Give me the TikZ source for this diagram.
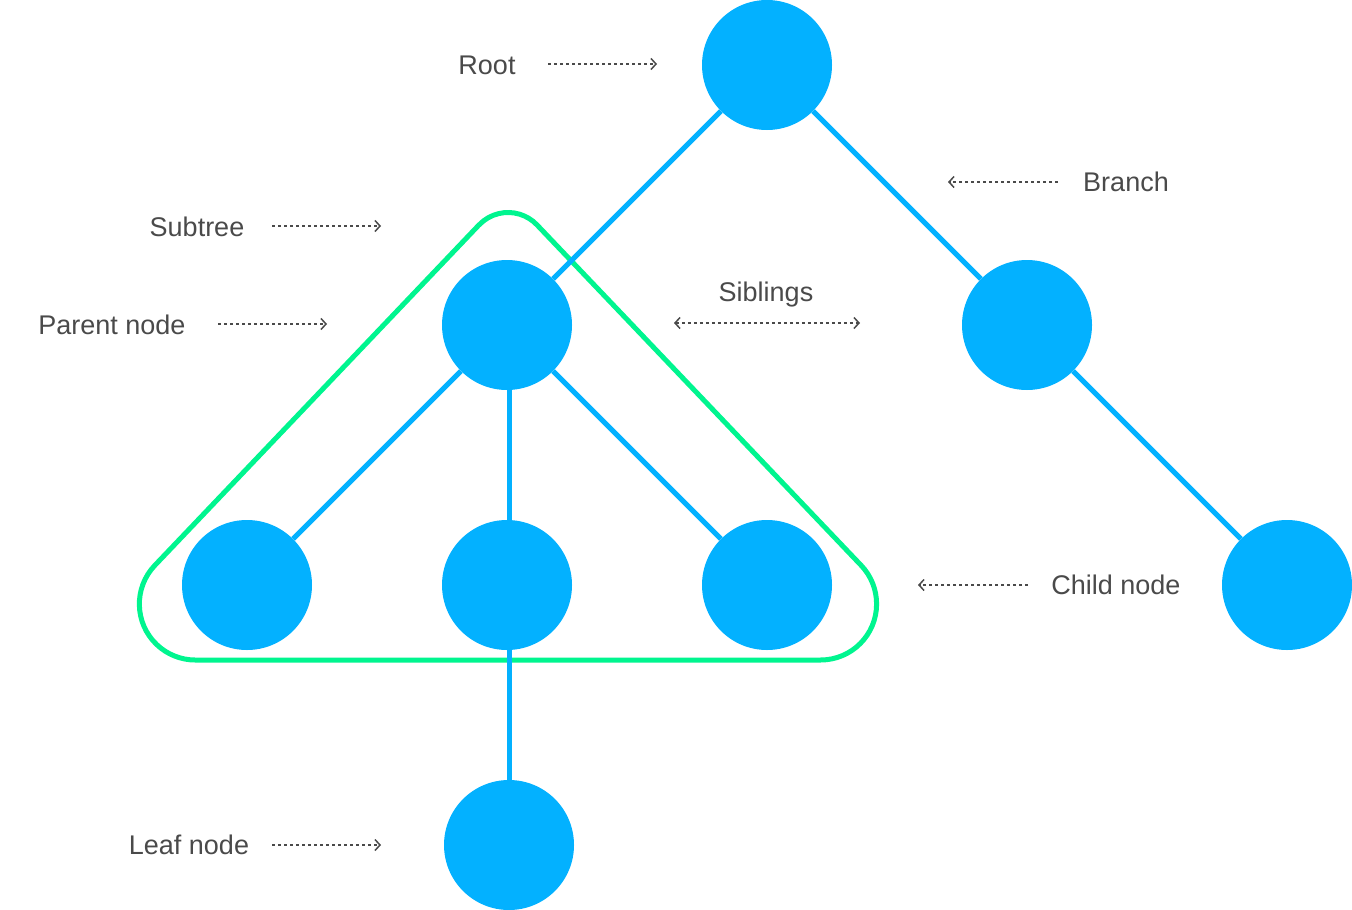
\documentclass[tikz,border=0pt]{standalone}
\usepackage{fontspec}
\setmainfont{Liberation Sans}
\usetikzlibrary{arrows.meta}
\definecolor{treeblue}{RGB}{3,177,255}
\definecolor{subgreen}{RGB}{0,245,143}
\definecolor{labelgray}{RGB}{74,74,74}
\tikzset{
  vert/.style={circle, fill=treeblue, minimum size=130pt, inner sep=0pt},
  edge/.style={treeblue, line width=5pt},
  lbl/.style={text=labelgray, font=\fontsize{27}{32}\selectfont},
  pointer/.style={labelgray, line width=1.5pt, dash pattern=on 3pt off 3pt},
  barb/.tip={Straight Barb[length=5pt,width=11pt,line width=1.5pt]},
}
\begin{document}
\begin{tikzpicture}[x=1pt,y=-1pt]
\useasboundingbox (0,0) rectangle (1352,910);
% subtree outline
\draw[subgreen, line width=5pt]
  (479,224.9)--(154.8,565.4) arc[start angle=223.6, end angle=90, radius=56]
  --(820.6,660) arc[start angle=90, end angle=-43.6, radius=56]
  --(537,224.9) arc[start angle=-43.6, end angle=-136.4, radius=40]--cycle;
% nodes
\node[vert] (root) at (767,65) {};
\node[vert] (parent) at (507,325) {};
\node[vert] (right) at (1027,325) {};
\node[vert] (c1) at (247,585) {};
\node[vert] (c2) at (507,585) {};
\node[vert] (c3) at (767,585) {};
\node[vert] (child) at (1287,585) {};
\node[vert] (leaf) at (509,845) {};
% branches
\draw[edge] (root)--(parent) (root)--(right) (right)--(child)
  (parent)--(c1) (parent)--(c3);
\draw[edge] (parent.south -| leaf)--(c2.north -| leaf);
\draw[edge] (c2.south -| leaf)--(leaf.north);
% labels
\node[lbl] (lroot) at (487,65) {Root};
\node[lbl] (lbranch) at (1126,182) {Branch};
\node[lbl] (lsub) at (197,227) {Subtree};
\node[lbl] (lparent) at (112,325) {Parent node};
\node[lbl] (lsib) at (766,295) {Siblings};
\node[lbl] (lchild) at (1116,585) {Child node};
\node[lbl] (lleaf) at (189,845) {Leaf node};
% pointers
\coordinate (p1) at (548,64);   \coordinate (p2) at (657,64);
\coordinate (p3) at (1058,182); \coordinate (p4) at (948,182);
\coordinate (p5) at (272,226);  \coordinate (p6) at (381,226);
\coordinate (p7) at (218,324);  \coordinate (p8) at (327,324);
\coordinate (p9) at (674,323);  \coordinate (p10) at (860,323);
\coordinate (p11) at (1028,585);\coordinate (p12) at (918,585);
\coordinate (p13) at (272,845); \coordinate (p14) at (381,845);
\draw[pointer, -barb] (p1)--(p2);
\draw[pointer, -barb] (p3)--(p4);
\draw[pointer, -barb] (p5)--(p6);
\draw[pointer, -barb] (p7)--(p8);
\draw[pointer, barb-barb] (p9)--(p10);
\draw[pointer, -barb] (p11)--(p12);
\draw[pointer, -barb] (p13)--(p14);
\end{tikzpicture}
\end{document}
